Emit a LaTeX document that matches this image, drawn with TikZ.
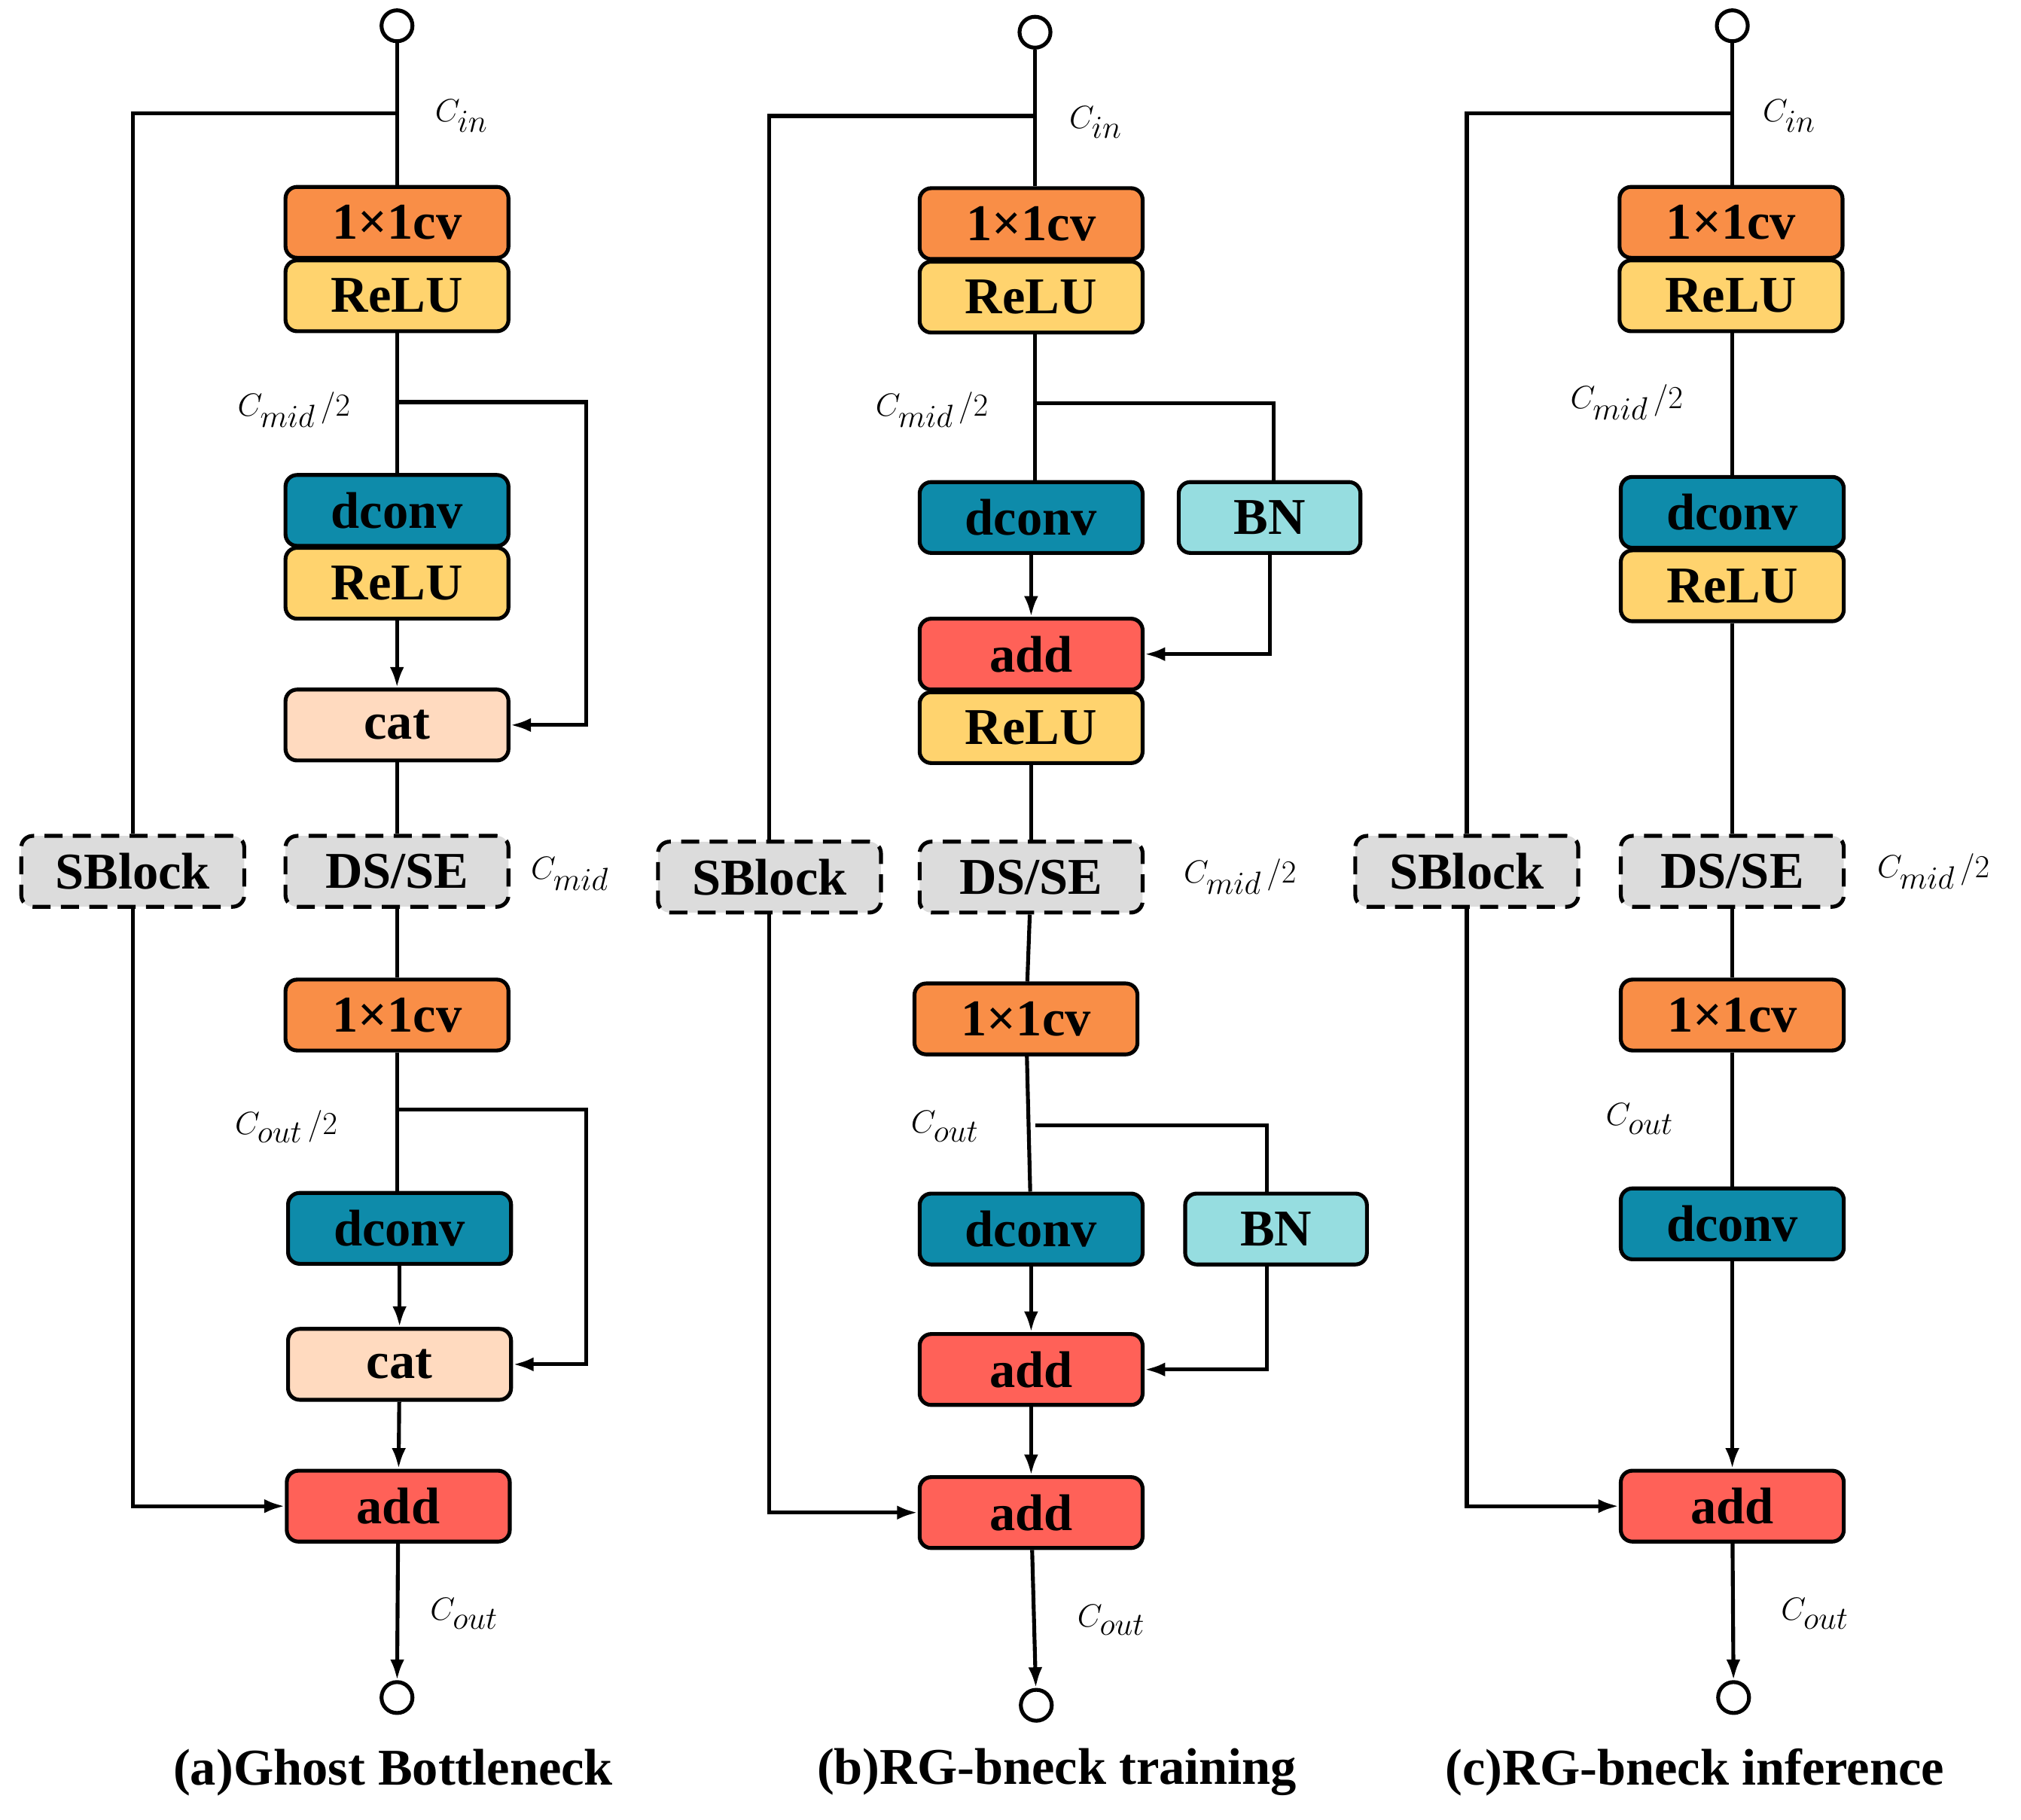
\documentclass[tikz,border=0pt]{standalone}
\usepackage{fontspec}
\setmainfont{Liberation Serif}
\usetikzlibrary{arrows.meta}
\definecolor{cvo}{HTML}{F98E47}
\definecolor{relu}{HTML}{FFD36E}
\definecolor{dcv}{HTML}{0E8BAA}
\definecolor{catc}{HTML}{FFDABF}
\definecolor{addc}{HTML}{FF6158}
\definecolor{bnc}{HTML}{96DDE0}
\definecolor{dsc}{HTML}{DCDCDC}
\begin{document}
\begin{tikzpicture}[x=1pt,y=-1pt,line width=3pt,
 b/.style={draw,rounded corners=9pt,minimum width=173pt,minimum height=55pt,inner sep=0pt,font=\fontsize{40}{44}\selectfont\bfseries},
 bn/.style={b,fill=bnc,minimum width=141pt},
 ds/.style={b,fill=dsc,dashed,dash pattern=on 14pt off 8pt},
 circ/.style={draw,circle,fill=white,minimum size=24pt,inner sep=0pt},
 lab/.style={font=\fontsize{38}{40}\selectfont},
 captxt/.style={font=\fontsize{40}{44}\selectfont\bfseries},
 ar/.style={-{Latex[length=16pt,width=11pt]}}]
\useasboundingbox (0,0) rectangle (1568,1412);
% ---------- column a
\node[circ] (a0) at (308,20) {};
\coordinate (a0b) at (308,88);
\node[b,fill=cvo] (a1) at (308,172.5) {1×1cv};
\node[b,fill=relu] (a2) at (308,229.5) {ReLU};
\coordinate (a2b) at (308,312);
\coordinate (a2r) at (455,312);
\node[b,fill=dcv] (a3) at (308,396) {dconv};
\node[b,fill=relu] (a4) at (308,452.5) {ReLU};
\node[b,fill=catc] (a5) at (308,562.5) {cat};
\node[ds] (a6) at (308,676) {DS/SE};
\node[ds] (a7) at (103,676) {SBlock};
\node[b,fill=cvo] (a8) at (308,787.5) {1×1cv};
\coordinate (a8b) at (308,861);
\coordinate (a8r) at (455,861);
\node[b,fill=dcv] (a9) at (310,953) {dconv};
\node[b,fill=catc] (a10) at (310,1058.5) {cat};
\node[b,fill=addc] (a11) at (309,1168.5) {add};
\node[circ] (a12) at (308,1317) {};
\draw (a0)--(a1);
\draw (a0b) -| (a7.north);
\draw[ar] (a7.south) |- (a11.west);
\draw (a2)--(a3);
\draw[ar] (a2b)--(a2r) |- (a5.east);
\draw[ar] (a4)--(a5);
\draw (a5)--(a6);
\draw (a6)--(a8);
\draw (a8.south)--(a8.south|-a9.north);
\draw[ar] (a8b)--(a8r) |- (a10.east);
\draw[ar] (a9)--(a10);
\draw[ar] (a10)--(a11);
\draw[ar] (a11)--(a12);
\node[lab] (la1) at (358,90) {$C_{in}$};
\node[lab] (la2) at (228,318) {$C_{mid}\,/2$};
\node[lab] (la3) at (442,678) {$C_{mid}$};
\node[lab] (la4) at (222,874) {$C_{out}\,/2$};
\node[lab] (la5) at (360,1252) {$C_{out}$};
\node[captxt] (ca) at (305,1375) {(a)Ghost Bottleneck};
% ---------- column b
\node[circ] (b0) at (803,25) {};
\coordinate (b0b) at (803,90);
\node[b,fill=cvo] (b1) at (800,173.5) {1×1cv};
\node[b,fill=relu] (b2) at (800,230.5) {ReLU};
\coordinate (b2b) at (803,313);
\coordinate (b2r) at (988,313);
\node[b,fill=dcv] (b3) at (800,401.5) {dconv};
\node[bn] (b4) at (985,401.5) {BN};
\node[b,fill=addc] (b5) at (800,507.5) {add};
\node[b,fill=relu] (b6) at (800,564.5) {ReLU};
\node[ds] (b7) at (800,680.5) {DS/SE};
\node[ds] (b8) at (597,680.5) {SBlock};
\node[b,fill=cvo] (b9) at (796,790.5) {1×1cv};
\coordinate (b9b) at (803,873);
\coordinate (b9r) at (983,873);
\node[b,fill=dcv] (b10) at (800,953.5) {dconv};
\node[bn] (b11) at (990,953.5) {BN};
\node[b,fill=addc] (b12) at (800,1062.5) {add};
\node[b,fill=addc] (b13) at (800,1173.5) {add};
\node[circ] (b14) at (804,1323) {};
\draw (b0)--(b0|-b1.north);
\draw (b0b) -| (b8.north);
\draw[ar] (b8.south) |- (b13.west);
\draw (b2b|-b2.south)--(b2b|-b3.north);
\draw (b2b)--(b2r)--(b2r|-b4.north);
\draw[ar] (b3)--(b5);
\draw[ar] (b4.south) |- (b5.east);
\draw (b6)--(b7);
\draw (b7)--(b9);
\draw (b9)--(b10);
\draw (b9b)--(b9r)--(b9r|-b11.north);
\draw[ar] (b10)--(b12);
\draw[ar] (b11.south-|b9r) |- (b12.east);
\draw[ar] (b12)--(b13);
\draw[ar] (b13)--(b14);
\node[lab] (lb1) at (850,95) {$C_{in}$};
\node[lab] (lb2) at (723,318) {$C_{mid}\,/2$};
\node[lab] (lb3) at (962,680) {$C_{mid}\,/2$};
\node[lab] (lb4) at (733,874) {$C_{out}$};
\node[lab] (lb5) at (862,1257) {$C_{out}$};
\node[captxt] (cb) at (820,1375) {(b)RG-bneck training};
% ---------- column c
\node[circ] (c0) at (1344,20) {};
\coordinate (c0b) at (1344,88);
\node[b,fill=cvo] (c1) at (1343,172.5) {1×1cv};
\node[b,fill=relu] (c2) at (1343,229.5) {ReLU};
\node[b,fill=dcv] (c3) at (1344,397.5) {dconv};
\node[b,fill=relu] (c4) at (1344,454.5) {ReLU};
\node[ds] (c5) at (1344,676) {DS/SE};
\node[ds] (c6) at (1138,676) {SBlock};
\node[b,fill=cvo] (c7) at (1344,787.5) {1×1cv};
\node[b,fill=dcv] (c8) at (1344,949.5) {dconv};
\node[b,fill=addc] (c9) at (1344,1168.5) {add};
\node[circ] (c10) at (1345,1317) {};
\draw (c0)--(c0|-c1.north);
\draw (c0b) -| (c6.north);
\draw[ar] (c6.south) |- (c9.west);
\draw (c0|-c2.south)--(c3.north);
\draw (c4)--(c5);
\draw (c5)--(c7);
\draw (c7)--(c8);
\draw[ar] (c8)--(c9);
\draw[ar] (c9)--(c10);
\node[lab] (lc1) at (1388,90) {$C_{in}$};
\node[lab] (lc2) at (1262,312) {$C_{mid}\,/2$};
\node[lab] (lc3) at (1500,676) {$C_{mid}\,/2$};
\node[lab] (lc4) at (1272,868) {$C_{out}$};
\node[lab] (lc5) at (1408,1252) {$C_{out}$};
\node[captxt] (cc) at (1315,1375) {(c)RG-bneck inference};
\end{tikzpicture}
\end{document}
